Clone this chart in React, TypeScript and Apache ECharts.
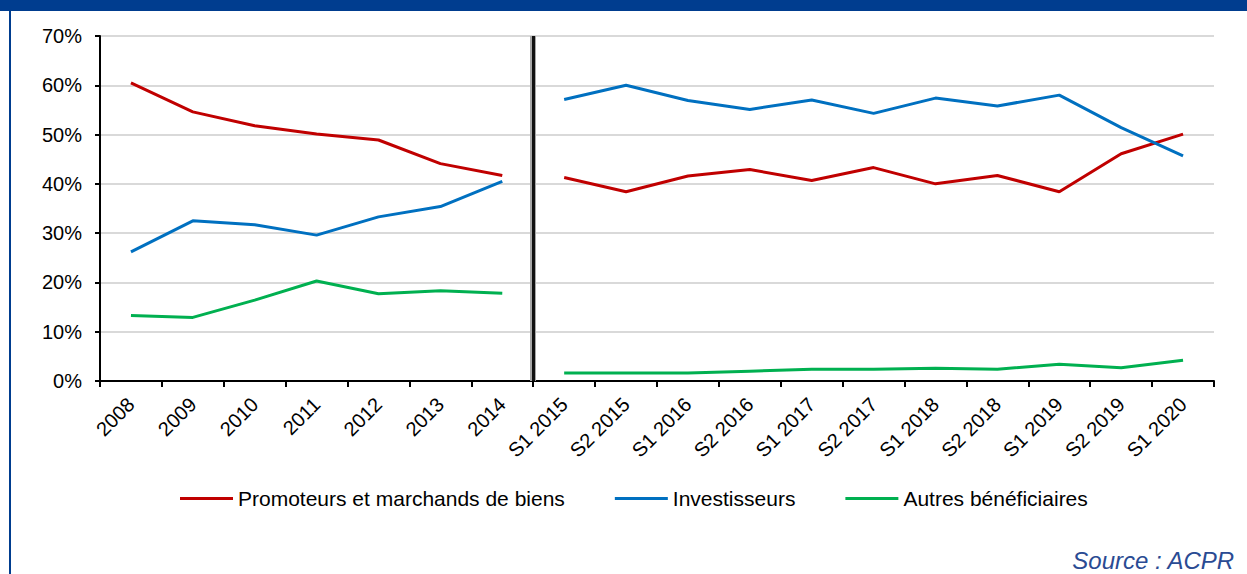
import React, { useEffect, useRef } from "react";
import * as echarts from "echarts";

const annualCategories = ["2008", "2009", "2010", "2011", "2012", "2013", "2014"];
const semiCategories = [
  "S1 2015", "S2 2015", "S1 2016", "S2 2016", "S1 2017", "S2 2017",
  "S1 2018", "S2 2018", "S1 2019", "S2 2019", "S1 2020",
];

const promoteursAnnual = [60.5, 54.6, 51.8, 50.1, 48.9, 44.1, 41.7];
const investisseursAnnual = [26.2, 32.5, 31.7, 29.6, 33.3, 35.4, 40.5];
const autresAnnual = [13.3, 12.9, 16.4, 20.3, 17.7, 18.3, 17.8];

const promoteursSemi = [41.3, 38.4, 41.6, 42.9, 40.7, 43.3, 40.0, 41.7, 38.4, 46.1, 50.1];
const investisseursSemi = [57.1, 60.0, 56.9, 55.1, 57.0, 54.3, 57.4, 55.8, 58.0, 51.4, 45.7];
const autresSemi = [1.6, 1.6, 1.6, 2.0, 2.4, 2.4, 2.6, 2.4, 3.4, 2.7, 4.2];

const yTicks = { min: 0, max: 70, interval: 10 };
const seriesNames = ["Promoteurs et marchands de biens", "Investisseurs", "Autres bénéficiaires"];
const seriesColors = ["#C00000", "#0070C0", "#00B050"];

const FONT = "'Liberation Sans', Arial, sans-serif";

export default function App() {
  const ref = useRef<HTMLDivElement>(null);
  useEffect(() => {
    if (!ref.current) return;
    const chart = echarts.init(ref.current, undefined, { renderer: "svg" });
    const categories = [...annualCategories, ...semiCategories];
    const nA = annualCategories.length;
    const nS = semiCategories.length;
    const padA = (arr: number[]) => [...arr, ...new Array(nS).fill(null)];
    const padS = (arr: number[]) => [...new Array(nA).fill(null), ...arr];
    const groups = [
      [promoteursAnnual, promoteursSemi],
      [investisseursAnnual, investisseursSemi],
      [autresAnnual, autresSemi],
    ];
    const series: any[] = [];
    groups.forEach((g, i) => {
      [padA(g[0]), padS(g[1])].forEach((d) => {
        series.push({
          name: seriesNames[i],
          type: "line",
          data: d,
          symbol: "none",
          connectNulls: false,
          lineStyle: { color: seriesColors[i], width: 3 },
          itemStyle: { color: seriesColors[i] },
          z: 3,
        });
      });
    });
    // separator between annual and half-year periods
    series.push({
      type: "line",
      xAxisIndex: 1,
      data: [],
      silent: true,
      z: 5,
      markLine: {
        silent: true,
        symbol: "none",
        label: { show: false },
        animation: false,
        data: [
          { xAxis: nA, lineStyle: { color: "#a8a8a8", width: 6, type: "solid" } },
          { xAxis: nA, lineStyle: { color: "#111", width: 3, type: "solid" } },
        ],
      },
    });

    chart.setOption({
      animation: false,
      backgroundColor: "#fff",
      textStyle: { fontFamily: FONT },
      grid: { left: 100, right: 33, top: 36, bottom: 193, containLabel: false },
      legend: {
        data: seriesNames,
        left: 175,
        top: 483,
        icon: "rect",
        itemWidth: 53,
        itemHeight: 3,
        itemGap: 50,
        textStyle: { fontSize: 21, color: "#000", fontFamily: FONT },
      },
      xAxis: [
        {
          type: "category",
          data: categories,
          boundaryGap: true,
          axisLine: { lineStyle: { color: "#000", width: 2 } },
          axisTick: { show: true, length: 6, lineStyle: { color: "#000", width: 2 } },
          axisLabel: { rotate: 45, fontSize: 20, color: "#000", margin: 20, fontFamily: FONT },
          splitLine: { show: false },
        },
        {
          type: "value",
          min: 0,
          max: categories.length,
          show: false,
          splitLine: { show: false },
        },
      ],
      yAxis: {
        type: "value",
        min: yTicks.min,
        max: yTicks.max,
        interval: yTicks.interval,
        axisLine: { show: true, lineStyle: { color: "#000", width: 2 } },
        axisTick: { show: true, length: 5, lineStyle: { color: "#000", width: 2 } },
        axisLabel: { formatter: "{value}%", fontSize: 20, color: "#000", margin: 18, fontFamily: FONT },
        splitLine: { show: true, lineStyle: { color: "#d9d9d9", width: 2 } },
      },
      series,
      graphic: [
        { type: "rect", left: 0, top: 0, shape: { width: 1247, height: 11 }, style: { fill: "#003D8F" } },
        { type: "rect", left: 9, top: 11, shape: { width: 2, height: 563 }, style: { fill: "#003D8F" } },
        {
          type: "text",
          right: 12,
          top: 548,
          style: {
            text: "Source : ACPR",
            font: "italic 24px " + FONT,
            fill: "#2A4B93",
          },
        },
      ],
    });
    return () => chart.dispose();
  }, []);
  return (
    <div
      ref={ref}
      style={{ position: "fixed", left: 0, top: 0, width: 1247, height: 574 }}
    />
  );
}
